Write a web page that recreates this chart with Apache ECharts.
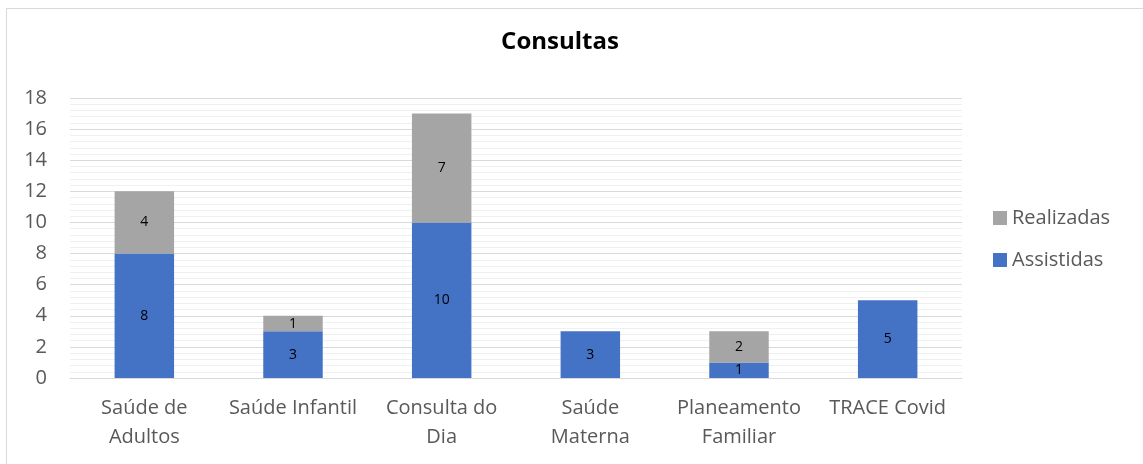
<!DOCTYPE html>
<html>
<head>
<meta charset="utf-8">
<script src="https://cdn.jsdelivr.net/npm/echarts@6/dist/echarts.min.js"></script>
<style>
  html, body { margin: 0; padding: 0; background: #fff; }
  #frame { position: absolute; left: 6px; top: 8px; width: 1160px; height: 480px; border: 1px solid #d9d9d9; }
  #chart { position: absolute; left: 0; top: 0; width: 1143px; height: 464px; }
</style>
</head>
<body>
<div id="frame"></div>
<div id="chart"></div>
<script>
const categories = ['Saúde de\nAdultos', 'Saúde Infantil', 'Consulta do\nDia', 'Saúde\nMaterna', 'Planeamento\nFamiliar', 'TRACE Covid'];
const assistidas = [8, 3, 10, 3, 1, 5];
const realizadas = [4, 1, 7, 0, 2, 0];

const chart = echarts.init(document.getElementById('chart'));
const font = '"Open Sans", "Noto Sans", sans-serif';

const label = {
  show: true,
  color: '#000',
  fontSize: 14,
  fontFamily: font,
  formatter: p => (p.value ? p.value : '')
};

chart.setOption({
  animation: false,
  title: {
    text: 'Consultas',
    left: 555,
    top: 25,
    textAlign: 'center',
    textStyle: { fontFamily: font, fontWeight: 'bold', fontSize: 24, color: '#000' }
  },
  legend: {
    orient: 'vertical',
    left: 988,
    top: 203,
    itemWidth: 14,
    itemHeight: 14,
    itemGap: 22,
    icon: 'rect',
    data: ['Realizadas', 'Assistidas'],
    textStyle: { fontFamily: font, fontSize: 20, color: '#595959' }
  },
  grid: { left: 70, right: 181, top: 98, bottom: 86 },
  xAxis: {
    type: 'category',
    data: categories,
    axisLine: { lineStyle: { color: '#d9d9d9' } },
    axisTick: { show: false },
    axisLabel: { color: '#595959', fontFamily: font, fontSize: 20, lineHeight: 29, margin: 16, interval: 0 }
  },
  yAxis: {
    type: 'value',
    min: 0,
    max: 18,
    interval: 2,
    axisLine: { show: false },
    axisTick: { show: false },
    axisLabel: { color: '#595959', fontFamily: font, fontSize: 20, margin: 23 },
    splitLine: { lineStyle: { color: '#d9d9d9' } },
    minorTick: { show: false, splitNumber: 5 },
    minorSplitLine: { show: true, lineStyle: { color: '#f0f0f0' } }
  },
  series: [
    {
      name: 'Assistidas',
      type: 'bar',
      stack: 'c',
      barWidth: '40%',
      data: assistidas,
      itemStyle: { color: '#4472c4' },
      label: label
    },
    {
      name: 'Realizadas',
      type: 'bar',
      stack: 'c',
      data: realizadas,
      itemStyle: { color: '#a5a5a5' },
      label: label
    }
  ]
});
</script>
</body>
</html>
